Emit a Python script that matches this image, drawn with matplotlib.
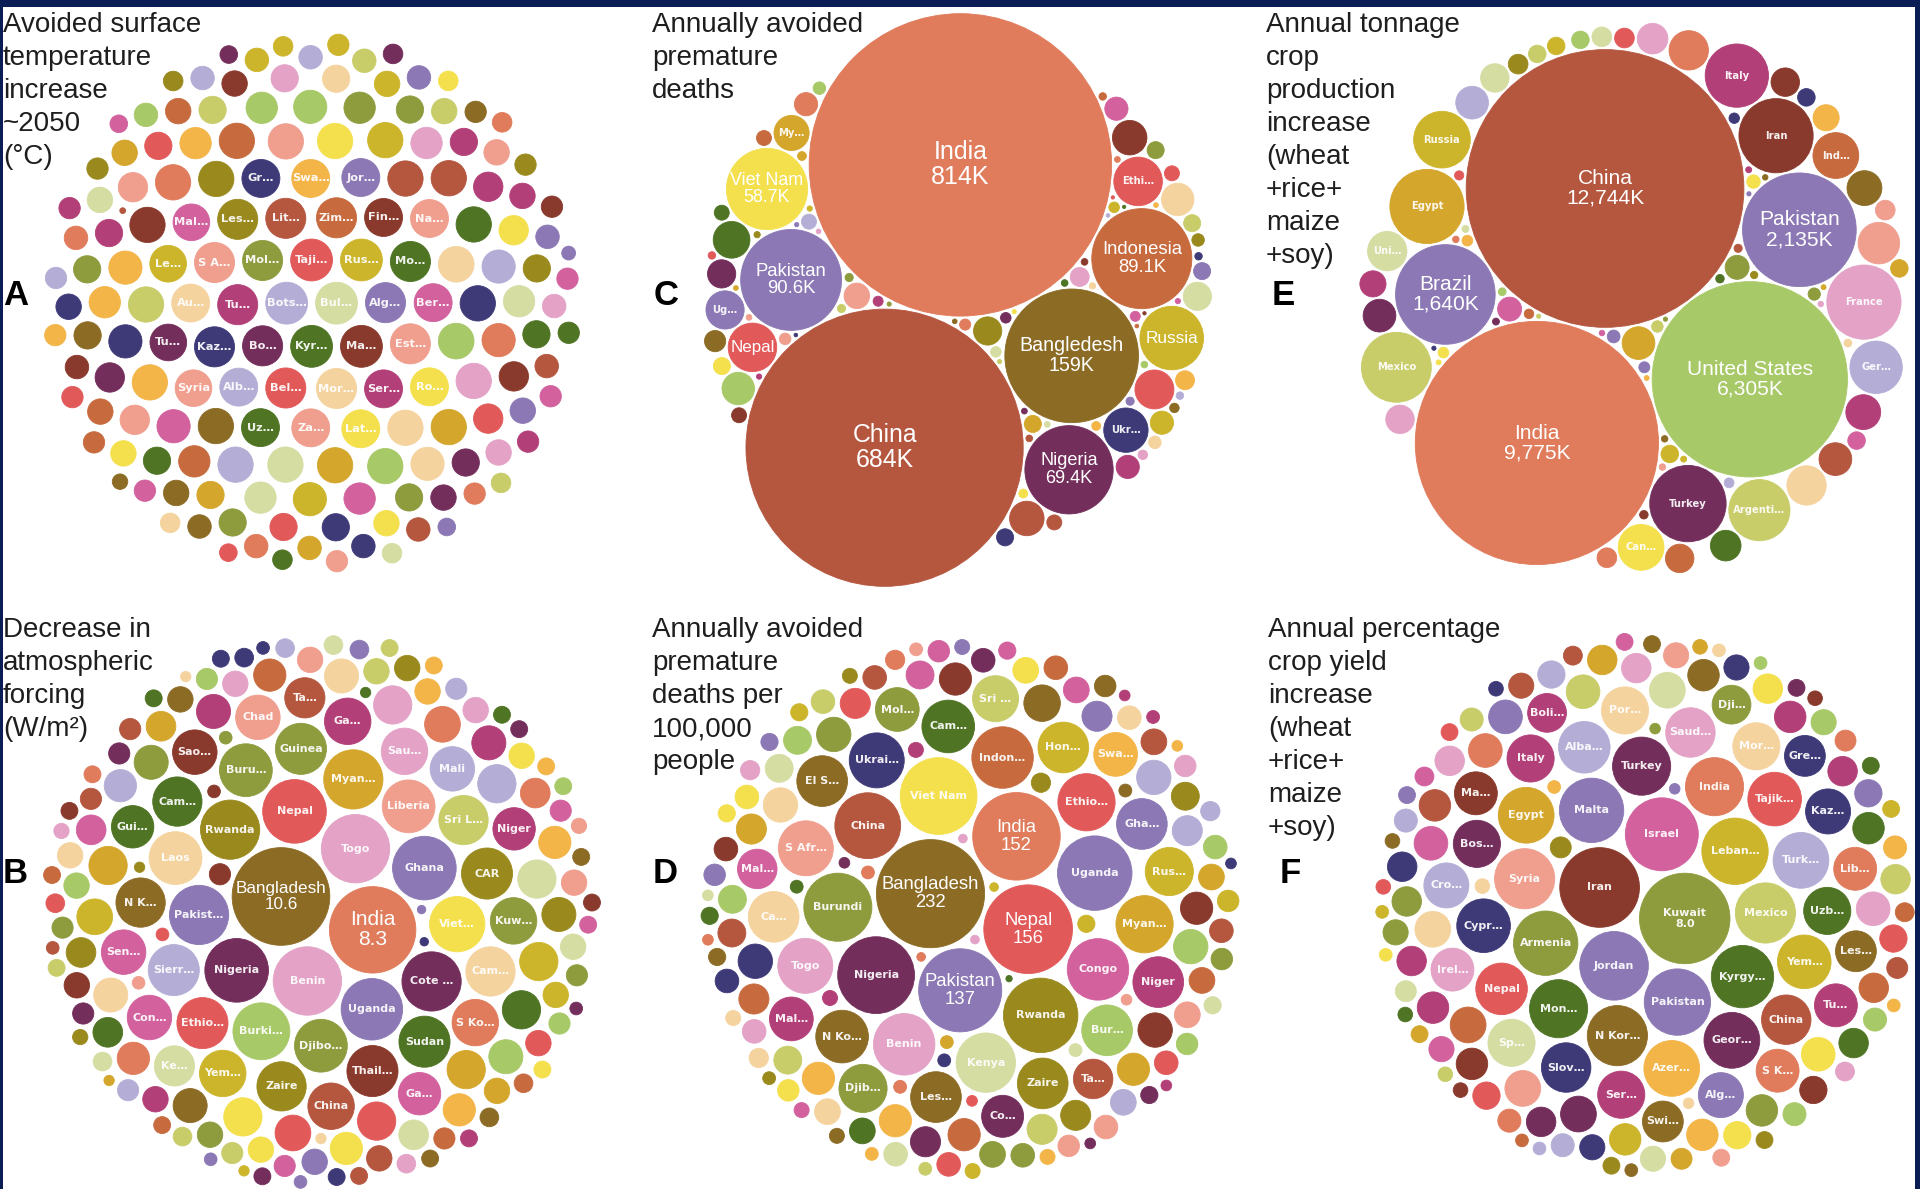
import numpy as np
import matplotlib
matplotlib.use("Agg")
import matplotlib.pyplot as plt
from matplotlib.patches import Circle, Rectangle
from matplotlib.collections import PatchCollection
from matplotlib.textpath import TextPath
from matplotlib.font_manager import FontProperties

# ----------------------------------------------------------------------------
# Data
# ----------------------------------------------------------------------------

# A: avoided surface temperature increase ~2050 (deg C)
A_LABELS = ["Alb…", "Mal…", "Bo…", "Syria", "Tu…", "Fin…", "Ser…", "Bots…", "Bul…",
            "Au…", "Ber…", "Kyr…", "Mol…", "Le…", "Taji…", "Alg…", "Tu…", "Rus…",
            "Lit…", "Za…", "Bel…", "Swa…", "Mor…", "Zim…", "S A…", "Uz…", "Gr…",
            "Lat…", "Jor…", "Kaz…", "Est…", "Ma…", "Ro…", "Mo…", "Na…", "Les…"]
A_VALUES = [0.60, 0.56, 0.67, 0.56, 0.56, 0.60, 0.60, 0.73, 0.73, 0.60, 0.60, 0.73,
            0.67, 0.56, 0.73, 0.67, 0.67, 0.73, 0.67, 0.60, 0.67, 0.60, 0.67, 0.67,
            0.67, 0.60, 0.60, 0.60, 0.60, 0.67, 0.67, 0.73, 0.60, 0.67, 0.60, 0.67]
A_OTHER = [0.19, 0.27, 0.31, 0.46, 0.52, 0.23, 0.46, 0.31, 0.27, 0.31, 0.31, 0.13,
           0.46, 0.46, 0.41, 0.36, 0.16, 0.27, 0.52, 0.53, 0.52, 0.52, 0.13, 0.52,
           0.52, 0.46, 0.16, 0.36, 0.19,
           0.19, 0.41, 0.41, 0.52, 0.52, 0.31, 0.52, 0.08, 0.52, 0.52, 0.52, 0.31,
           0.31, 0.23,
           0.23, 0.52, 0.53, 0.19, 0.31, 0.41, 0.36, 0.23, 0.52, 0.31,
           0.41, 0.27, 0.52, 0.52, 0.23, 0.16, 0.41, 0.27, 0.23, 0.31, 0.23,
           0.27, 0.31, 0.52, 0.52, 0.014, 0.41, 0.31, 0.19,
           0.27, 0.27, 0.36, 0.52, 0.46, 0.27, 0.19,
           0.31, 0.31, 0.41, 0.52, 0.36, 0.31, 0.23, 0.27, 0.23, 0.19,
           0.27, 0.19, 0.31, 0.36, 0.52, 0.46, 0.46, 0.31, 0.36, 0.41, 0.27, 0.23,
           0.23, 0.19, 0.19,
           0.23, 0.27, 0.19, 0.27, 0.27, 0.31, 0.16, 0.23, 0.27, 0.23, 0.19, 0.13,
           0.19, 0.19, 0.23, 0.23, 0.16, 0.16, 0.16, 0.16, 0.19, 0.16, 0.19, 0.19,
           0.13, 0.10]

# B: decrease in atmospheric forcing (W/m2)
B_LABELS = ["Bangladesh", "India", "Togo", "Benin", "Nepal", "Nigeria", "Ghana",
            "Uganda", "Rwanda", "Burki…", "Pakist…", "Djibo…", "Cote …", "Myan…",
            "Sierr…", "Liberia", "Laos", "Ethio…", "Guinea", "Sudan", "Buru…",
            "Sri L…", "Thail…", "Cam…", "Mali", "Gui…", "Sau…", "S Ko…", "Yem…",
            "Zaire", "Sen…", "Ke…", "Con…", "Ga…", "Cam…", "Sao…", "N K…", "Ta…",
            "Ga…", "Niger", "Chad", "CAR", "Kuw…", "China", "Viet…"]
B_VALUES = [10.6, 8.3, 5.2, 5.2, 4.5, 4.5, 4.5, 4.2, 3.9, 3.6, 3.9, 3.1, 3.9, 3.9,
            2.9, 3.1, 3.1, 2.9, 2.9, 2.9, 3.1, 2.7, 2.9, 2.7, 2.2, 2.0, 2.4, 2.4,
            2.4, 2.7, 2.2, 1.8, 2.2, 2.0, 2.7, 2.2, 2.7, 1.8, 2.4, 2.0, 2.2, 2.9,
            2.4, 2.4, 3.4]
B_OTHER = [0.32, 0.72, 0.72, 1.63, 0.72, 1.29, 0.72, 0.39, 0.32, 1.63, 0.32, 1.63,
           0.32, 0.50,
           0.50, 0.72, 1.29, 0.12, 0.50, 1.63, 0.26, 0.32,
           0.72, 1.29, 0.32, 1.29, 1.63, 0.32, 1.63, 1.63, 0.72,
           0.39, 0.72, 0.39, 1.16, 0.39, 0.18, 0.12, 0.18, 0.32, 1.29, 0.12, 0.26,
           0.32, 0.98, 0.18, 1.42, 0.12, 0.72, 0.50, 0.32, 0.26,
           0.32, 0.72, 1.16, 0.18, 0.50, 0.08, 0.18, 0.39,
           0.50, 1.42, 1.63, 0.32, 0.18, 0.50, 0.12, 0.98, 0.50, 0.39, 0.72, 1.16,
           1.63, 0.32, 0.50,
           0.39, 0.72, 1.16, 0.12, 0.72, 0.50, 0.32, 0.18, 0.08,
           0.50, 1.16, 0.72, 0.32, 0.32, 0.72, 0.50, 1.29, 1.29, 0.32,
           0.72, 0.72, 0.98, 1.42, 1.29, 0.98, 0.72, 0.39, 1.16, 0.98, 0.32, 0.50,
           0.32, 0.18, 0.32, 0.50, 0.32, 0.39, 0.98, 0.72, 0.50, 0.32, 0.72, 0.72,
           0.18, 0.39]

# C: annually avoided premature deaths (thousands)
C_LABELS = ["India", "China", "Bangledesh", "Pakistan", "Indonesia", "Nigeria",
            "Viet Nam", "Russia", "Nepal", "Ethi…", "Ukr…", "Ug…", "My…"]
C_VALUES = [814, 684, 159, 90.6, 89.1, 69.4, 58.7, 36, 21, 21, 17.5, 13, 11]
C_OTHER = [13.5, 12.0, 10.6, 10.6, 9.4, 9.4, 7.1, 7.1, 7.1, 5.8, 4.8, 4.8, 4.8, 4.8,
           4.0, 3.2, 3.2, 2.6, 2.6, 2.6, 2.6, 2.6, 2.6, 2.0, 2.0, 2.0, 2.0, 2.0,
           2.0, 1.4, 1.4, 1.4, 1.0, 1.0,
           1.2, 1.1, 1.0, 0.9, 0.9, 0.8, 0.8, 0.7, 0.7, 0.7, 0.6, 0.6, 0.6, 0.5,
           0.5, 0.5, 0.5, 0.4, 0.4, 0.4, 0.4, 0.35, 0.35, 0.3, 0.3, 0.3, 0.3,
           0.25, 0.25, 0.25, 0.2, 0.2, 0.2, 0.2, 0.16, 0.16, 0.16, 0.16, 0.12,
           0.12, 0.12, 0.1, 0.1, 0.1]

# D: annually avoided premature deaths per 100,000 people
D_LABELS = ["Bangladesh", "Nepal", "India", "Pakistan", "Nigeria", "Viet Nam",
            "Rwanda", "Uganda", "Burundi", "China", "Congo", "Benin", "Indon…",
            "Kenya", "Ethio…", "Myan…", "Togo", "Ukrai…", "S Afr…", "N Ko…", "Cam…",
            "Bur…", "Hon…", "Zaire", "Gha…", "Les…", "El S…", "Ca…", "Niger",
            "Rus…", "Djib…", "Sri …", "Mal…", "Swa…", "Mol…", "Co…", "Ta…", "Mal…"]
D_VALUES = [232, 156, 152, 137, 117, 117, 110, 110, 92, 86, 75, 75, 75, 70, 65, 65,
            60, 60, 60, 55, 55, 51, 51, 51, 51, 51, 51, 51, 51, 46, 46, 42, 38, 38,
            38, 35, 31, 31]
D_OTHER = [9.2, 11.1, 7.4, 11.1, 15.5, 13.2, 3.3, 5.9, 4.5, 13.2, 26.5, 11.1, 20.7,
           3.3, 11.1, 9.2, 15.5, 18.0, 3.3, 18.0, 13.2, 11.1, 3.3, 20.7, 11.1, 15.5,
           23.5, 18.0, 2.3, 3.3, 2.3, 3.3, 1.5, 4.5, 15.5, 5.9, 1.5, 4.5, 13.2,
           13.2, 23.5, 18.0, 4.5, 23.5, 7.4, 20.7, 2.3, 0.8,
           11.1, 11.1, 11.1, 4.5, 4.5, 5.9, 2.3, 9.2, 1.5, 5.9, 2.3, 5.9, 3.3, 1.5,
           2.3,
           18.0, 9.2, 11.1, 11.1, 5.9, 11.1, 13.2, 11.1, 11.1, 5.9, 23.5, 15.5,
           23.5, 7.4, 3.3, 2.3, 5.9, 3.3, 2.3, 4.5, 2.3, 4.5, 4.5, 9.2, 20.7, 20.7,
           5.9, 13.2, 3.3, 9.2, 2.3, 23.5, 18.0, 18.0, 13.2, 20.7, 13.2, 15.5,
           13.2, 15.5, 18.0, 11.1, 11.1, 7.4, 9.2, 3.3, 9.2, 9.2, 7.4, 3.3]

# E: annual tonnage crop production increase (thousand tonnes)
E_LABELS = ["China", "India", "United States", "Pakistan", "Brazil", "Turkey",
            "Iran", "Egypt", "France", "Mexico", "Italy", "Argenti…", "Russia",
            "Ger…", "Ind…", "Can…", "Uni…"]
E_VALUES = [12744, 9775, 6305, 2135, 1640, 964, 910, 910, 910, 808, 662, 618, 531,
            454, 347, 347, 256]
E_OTHER = [134, 285, 64, 51, 201, 51, 7, 155, 19, 177, 19, 95, 51, 27, 51, 177,
           134, 64, 155, 134, 177, 51, 256, 64, 177, 64, 64, 256, 51, 113, 95, 201,
           134, 113, 51,
           30, 25, 22, 20, 18, 16, 15, 14, 12, 12, 11, 10, 10, 9, 8, 8, 7, 7, 6, 6,
           5, 5, 5, 4, 4, 4, 3, 3, 3, 3]

# F: annual percentage crop yield increase
F_LABELS = ["Kuwait", "Iran", "Israel", "Jordan", "Pakistan", "Leban…", "Armenia",
            "Malta", "Kyrgy…", "Mexico", "Syria", "N Kor…", "India", "Mon…",
            "Turkey", "Egypt", "Geor…", "Turk…", "Azer…", "Cypr…", "Tajik…", "Yem…",
            "Nepal", "Alba…", "Saud…", "China", "Slov…", "Uzb…", "Bos…", "Italy",
            "Ser…", "Mor…", "Sp…", "Por…", "Cro…", "Kaz…", "Alg…", "Ma…", "Irel…",
            "S K…", "Lib…", "Tu…", "Les…", "Gre…", "Swi…", "Boli…", "Dji…"]
F_VALUES = [8.0, 6.2, 5.2, 4.6, 4.3, 4.3, 4.05, 4.05, 3.8, 3.54, 3.54, 3.54, 3.3,
            3.3, 3.3, 3.04, 3.04, 3.04, 3.04, 2.81, 2.81, 2.81, 2.6, 2.6, 2.39,
            2.39, 2.39, 2.17, 2.17, 2.17, 2.17, 2.17, 2.17, 2.17, 1.98, 1.98, 1.98,
            1.8, 1.8, 1.8, 1.8, 1.8, 1.63, 1.63, 1.63, 1.47, 1.47]
F_OTHER = [0.85, 0.35, 0.28, 0.85, 0.52, 0.28, 0.73, 0.85, 1.11, 0.73, 0.62, 0.52,
           0.85, 0.73, 0.97, 0.73, 0.97, 0.52, 0.21, 0.43, 0.85, 1.25, 0.62, 1.11,
           0.28, 0.85, 0.62, 0.21, 0.85, 0.16, 0.43, 0.85, 0.97, 0.52, 0.11, 0.85,
           0.52, 1.25, 0.28, 0.85, 0.21, 0.62, 0.52, 1.25, 0.28, 1.25, 0.43, 1.25,
           0.43, 0.97, 0.97, 1.11, 0.97, 1.11, 0.97, 0.85, 1.11, 0.62, 0.85, 1.11,
           0.62, 0.73, 0.35, 0.73, 0.28, 0.97, 0.43, 0.62, 0.16, 0.28, 0.28, 0.62,
           0.28, 0.52, 0.16, 0.97, 0.28, 0.16, 0.35, 0.16, 0.21, 0.16, 0.11, 0.21,
           0.28, 0.21, 0.16, 0.16, 0.21, 0.21, 0.21, 0.35, 0.16, 0.11]

TITLES = {
    "A": ["Avoided surface", "temperature", "increase", "~2050", "(°C)"],
    "B": ["Decrease in", "atmospheric", "forcing", "(W/m²)"],
    "C": ["Annually avoided", "premature", "deaths"],
    "D": ["Annually avoided", "premature", "deaths per", "100,000", "people"],
    "E": ["Annual tonnage", "crop", "production", "increase", "(wheat", "+rice+",
          "maize", "+soy)"],
    "F": ["Annual percentage", "crop yield", "increase", "(wheat", "+rice+",
          "maize", "+soy)"],
}

# ----------------------------------------------------------------------------
# Styling
# ----------------------------------------------------------------------------
PALETTE = {
    "salmon": "#E07B5B", "brick": "#B5563F", "purple": "#8B78B4",
    "olivebrown": "#8C6B25", "plum": "#742E5C", "red": "#E2595A",
    "yellow": "#F4E04D", "mustard": "#CDB52B", "green": "#A8C968",
    "navy": "#3E3A78", "pink": "#E3A2C6", "pale": "#D5DDA2",
    "dkgreen": "#4F7424", "olive": "#8E9C3E", "magenta": "#B33F78",
    "peach": "#F5D39E", "lavender": "#B4AED6", "orange": "#F3B548",
    "lsalmon": "#F09E8E", "dkred": "#8A3A2C", "ygreen": "#C8CD6A",
    "rose": "#D2619E", "dkolive": "#9A8A1E", "rust": "#C76B3F", "gold": "#D4A62C",
}
CYCLE = list(PALETTE.keys())

A_COLORS = ["lavender", "rose", "plum", "lsalmon", "plum", "dkred", "magenta",
            "lavender", "pale", "peach", "rose", "dkgreen", "olive", "mustard", "red",
            "purple", "magenta", "mustard", "brick", "lsalmon", "red", "orange",
            "peach", "rust", "lsalmon", "dkgreen", "navy", "yellow", "purple", "navy",
            "lsalmon", "dkred", "yellow", "dkgreen", "lsalmon", "dkolive"]
B_COLORS = ["olivebrown", "salmon", "pink", "pink", "red", "plum", "purple", "purple",
            "dkolive", "green", "purple", "olive", "plum", "gold", "lavender",
            "lsalmon", "peach", "red", "olive", "dkgreen", "olive", "ygreen", "dkred",
            "peach", "lavender", "dkgreen", "pink", "salmon", "mustard", "dkolive",
            "rose", "pale", "rose", "rose", "dkgreen", "dkred", "olivebrown", "brick",
            "magenta", "magenta", "lsalmon", "dkolive", "olive", "brick", "yellow"]
C_COLORS = ["salmon", "brick", "olivebrown", "purple", "rust", "plum", "yellow",
            "mustard", "red", "red", "navy", "purple", "gold"]
D_COLORS = ["olivebrown", "red", "salmon", "purple", "plum", "yellow", "dkolive",
            "purple", "olive", "brick", "rose", "pink", "rust", "pale", "red", "gold",
            "pink", "navy", "lsalmon", "olivebrown", "dkgreen", "green", "mustard",
            "dkolive", "purple", "olivebrown", "olivebrown", "peach", "magenta",
            "mustard", "olive", "ygreen", "magenta", "orange", "olive", "plum",
            "brick", "rose"]
E_COLORS = ["brick", "salmon", "green", "purple", "purple", "plum", "dkred", "gold",
            "pink", "ygreen", "magenta", "ygreen", "mustard", "lavender", "rust",
            "yellow", "pale"]
F_COLORS = ["olive", "dkred", "rose", "purple", "purple", "mustard", "olive",
            "purple", "dkgreen", "ygreen", "lsalmon", "olivebrown", "salmon",
            "dkgreen", "plum", "gold", "plum", "lavender", "orange", "navy", "red",
            "mustard", "red", "lavender", "pink", "brick", "navy", "dkgreen", "plum",
            "magenta", "magenta", "peach", "pale", "peach", "lavender", "navy",
            "purple", "dkred", "pink", "salmon", "salmon", "magenta", "olivebrown",
            "navy", "olivebrown", "magenta", "olive"]

FRAME = "#0B1D55"
TITLE_COLOR = "#1E1E1E"
TITLE_FONT = "Liberation Sans"
LABEL_BIG_FONT = "Liberation Sans"
LABEL_SMALL_FONT = "DejaVu Sans"
PX = 72.0 / 100.0  # points per pixel at dpi=100


def fmt_3sig_k(v):
    return f"{v:.3g}K"


def fmt_thousands_k(v):
    return f"{v:,.0f}K"


PANELS = [
    dict(key="A", labels=A_LABELS, values=A_VALUES, other=A_OTHER, colors=A_COLORS,
         scale=24.5, pad=8.0, angle=0.0, pull=(0, 0), center=(312, 303),
         title_xy=(3, 32), letter_xy=(3, 305), n_value=0, n_big=0, fmt=None,
         big_px=None, small_pt=8.2, cycle_offset=0),
    dict(key="C", labels=C_LABELS, values=C_VALUES, other=C_OTHER, colors=C_COLORS,
         scale=5.3, pad=3.0, angle=105.0, pull=(30, 0), center=(958, 300),
         title_xy=(652, 32), letter_xy=(654, 305), n_value=7, n_big=9,
         fmt=fmt_3sig_k,
         big_px=lambda r: min(25.0, max(17.0, 15.0 + 0.07 * r)),
         small_pt=7.2, cycle_offset=5),
    dict(key="E", labels=E_LABELS, values=E_VALUES, other=E_OTHER, colors=E_COLORS,
         scale=1.23, pad=3.0, angle=105.0, pull=(60, 0), center=(1634, 298),
         title_xy=(1266, 32), letter_xy=(1272, 305), n_value=5, n_big=5,
         fmt=fmt_thousands_k, big_px=lambda r: 21.0, small_pt=7.2,
         cycle_offset=11),
    dict(key="B", labels=B_LABELS, values=B_VALUES, other=B_OTHER, colors=B_COLORS,
         scale=15.0, pad=5.5, angle=20.0, pull=(0, 0), center=(322, 912),
         title_xy=(3, 637), letter_xy=(3, 883), n_value=2, n_big=2,
         fmt=lambda v: f"{v:.1f}", big_px=lambda r: 21.0, small_pt=8.0,
         cycle_offset=3),
    dict(key="D", labels=D_LABELS, values=D_VALUES, other=D_OTHER, colors=D_COLORS,
         scale=3.55, pad=5.5, angle=20.0, pull=(0, 0), center=(970, 909),
         title_xy=(652, 637), letter_xy=(653, 883), n_value=4, n_big=4,
         fmt=lambda v: f"{v:.0f}", big_px=lambda r: 18.5, small_pt=8.0,
         cycle_offset=8),
    dict(key="F", labels=F_LABELS, values=F_VALUES, other=F_OTHER, colors=F_COLORS,
         scale=16.0, pad=5.5, angle=200.0, pull=(0, 0), center=(1645, 905),
         title_xy=(1268, 637), letter_xy=(1280, 883), n_value=1, n_big=0,
         fmt=lambda v: f"{v:.1f}", big_px=None, small_pt=8.0, cycle_offset=14),
]


# ----------------------------------------------------------------------------
# Circle packing: each circle (largest first) goes to the free spot tangent to
# two already placed circles that lies closest to a fixed attractor, the
# area-weighted centre of the two largest circles (optionally nudged).
# ----------------------------------------------------------------------------
def pack_circles(radii, pad, angle_deg, pull):
    n = len(radii)
    R = np.asarray(radii, float) + pad / 2.0
    order = np.argsort(-R, kind="stable")
    xs = np.zeros(n)
    ys = np.zeros(n)
    placed = [order[0]]
    j = order[1]
    d = R[order[0]] + R[j]
    xs[j] = d * np.cos(np.radians(angle_deg))
    ys[j] = d * np.sin(np.radians(angle_deg))
    placed.append(j)
    w0, w1 = R[order[0]] ** 2, R[j] ** 2
    cx = (xs[j] * w1) / (w0 + w1) + pull[0]
    cy = (ys[j] * w1) / (w0 + w1) + pull[1]
    for k in order[2:]:
        r = R[k]
        P = np.array(placed)
        px, py, pr = xs[P], ys[P], R[P]
        dx = px[None, :] - px[:, None]
        dy = py[None, :] - py[:, None]
        dist = np.hypot(dx, dy)
        reach = pr[:, None] + pr[None, :] + 2.0 * r
        I, J = np.nonzero(np.triu(dist < reach, 1))
        a = pr[I] + r
        b = pr[J] + r
        d = dist[I, J]
        l = (a * a - b * b + d * d) / (2.0 * d)
        h = np.sqrt(np.maximum(a * a - l * l, 0.0))
        ux = dx[I, J] / d
        uy = dy[I, J] / d
        bx = px[I] + l * ux
        by = py[I] + l * uy
        cand_x = np.concatenate([bx - h * uy, bx + h * uy])
        cand_y = np.concatenate([by + h * ux, by - h * ux])
        gap = np.hypot(cand_x[:, None] - px[None, :],
                       cand_y[:, None] - py[None, :]) - pr[None, :]
        ok = (gap >= r - 1e-6).all(axis=1)
        score = np.hypot(cand_x - cx, cand_y - cy) - 1e-4 * cand_x
        score[~ok] = np.inf
        best = int(np.argmin(score))
        xs[k] = cand_x[best]
        ys[k] = cand_y[best]
        placed.append(k)
    return xs, ys


def text_width_em(s, family, weight="normal"):
    prop = FontProperties(family=family, weight=weight)
    return max(TextPath((0, 0), line, size=1, prop=prop).get_extents().width
               for line in s.split("\n"))


# ----------------------------------------------------------------------------
# Figure
# ----------------------------------------------------------------------------
W, H = 1920, 1189
fig = plt.figure(figsize=(W / 100, H / 100), dpi=100, facecolor="white")
ax = fig.add_axes([0, 0, 1, 1])
ax.set_xlim(0, W)
ax.set_ylim(H, 0)
ax.axis("off")

for spec in PANELS:
    labels = spec["labels"]
    values = np.array(list(spec["values"]) + list(spec["other"]), float)
    n_lab = len(labels)
    radii = spec["scale"] * np.sqrt(values)
    xs, ys = pack_circles(radii, spec["pad"], spec["angle"], spec["pull"])

    # centre the cluster's bounding box on the panel centre
    x0, x1 = (xs - radii).min(), (xs + radii).max()
    y0, y1 = (ys - radii).min(), (ys + radii).max()
    xs = xs - (x0 + x1) / 2.0 + spec["center"][0]
    ys = ys - (y0 + y1) / 2.0 + spec["center"][1]

    colors = []
    for i in range(len(values)):
        if i < n_lab:
            colors.append(PALETTE[spec["colors"][i]])
        else:
            j = i - n_lab
            colors.append(PALETTE[CYCLE[(j * 7 + spec["cycle_offset"]) % len(CYCLE)]])

    patches = [Circle((x, y), r) for x, y, r in zip(xs, ys, radii)]
    ax.add_collection(PatchCollection(patches, facecolors=colors, edgecolors=colors,
                                      linewidths=0.6, zorder=2))

    # circle labels
    for i, name in enumerate(labels):
        r = radii[i]
        text = name
        if i < spec["n_value"]:
            text = f"{name}\n{spec['fmt'](spec['values'][i])}"
        if i < spec["n_big"]:
            em = text_width_em(text, LABEL_BIG_FONT)
            size_px = min(spec["big_px"](r), 0.9 * 2 * r / em)
            ax.text(xs[i], ys[i], text, ha="center", va="center", color="white",
                    fontsize=size_px * PX, family=LABEL_BIG_FONT,
                    linespacing=1.05, zorder=3)
        else:
            em = text_width_em(text, LABEL_SMALL_FONT, "bold")
            size_pt = min(spec["small_pt"], 0.95 * 2 * r / em * PX)
            ax.text(xs[i], ys[i], text, ha="center", va="center", color="white",
                    alpha=0.92, fontsize=size_pt, family=LABEL_SMALL_FONT,
                    fontweight="bold", linespacing=1.1, zorder=3)

    # panel title and letter
    tx, ty = spec["title_xy"]
    for li, line in enumerate(TITLES[spec["key"]]):
        ax.text(tx, ty + 33 * li, line, ha="left", va="baseline", color=TITLE_COLOR,
                fontsize=20, family=TITLE_FONT, zorder=4)
    lx, ly = spec["letter_xy"]
    ax.text(lx, ly, spec["key"], ha="left", va="baseline", color="black",
            fontsize=25, fontweight="bold", family=TITLE_FONT, zorder=4)

# dark frame
for rect in [(0, 0, W, 7), (0, 0, 3, H), (W - 5, 0, 5, H)]:
    ax.add_patch(Rectangle(rect[:2], rect[2], rect[3], facecolor=FRAME,
                           edgecolor="none", zorder=5))

fig.savefig("out.png", dpi=100, facecolor="white")
